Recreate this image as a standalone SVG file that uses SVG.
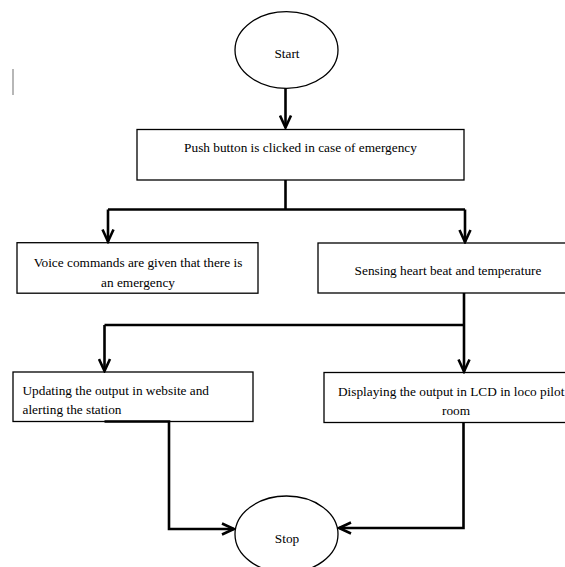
<svg xmlns="http://www.w3.org/2000/svg" width="565" height="567" viewBox="0 0 565 567">
<defs>
<style>
.box{fill:#fff;stroke:#000;stroke-width:1.3}
.term{fill:#fff;stroke:#000;stroke-width:1.3}
.t{font-family:"Liberation Serif","Times New Roman",serif;font-size:13.3px;fill:#000}
.c{text-anchor:middle}
.conn{fill:none;stroke:#000;stroke-width:2.6;stroke-linejoin:miter}
</style>
<marker id="ah" markerUnits="userSpaceOnUse" markerWidth="16" markerHeight="14" viewBox="-14 -7 16 14" refX="0" refY="0" orient="auto">
<path d="M-12,-5.5 L0,0 L-12,5.5" fill="none" stroke="#000" stroke-width="2.6" stroke-linejoin="miter"/>
</marker>
<clipPath id="clipL1"><rect x="17" y="243" width="241" height="48"/></clipPath>
<clipPath id="clipL2"><rect x="13" y="372" width="240" height="45.5"/></clipPath>
</defs>
<rect width="565" height="567" fill="#fff"/>
<line x1="13" y1="69" x2="13" y2="95" stroke="#999" stroke-width="1.4"/>

<g id="start">
<ellipse class="term" cx="286.5" cy="50" rx="51.5" ry="38.3"/>
<text class="t c" x="287" y="58">Start</text>
</g>

<g id="push">
<rect class="box" x="137" y="129.5" width="327" height="50.5"/>
<text class="t c" x="300.5" y="151.5">Push button is clicked in case of emergency</text>
</g>

<g id="voice">
<rect class="box" x="17" y="242.7" width="241" height="50.5"/>
<g clip-path="url(#clipL1)">
<text class="t c" x="138" y="267">Voice commands are given that there is</text>
<text class="t c" x="138" y="287">an emergency</text>
</g>
</g>

<g id="sensing">
<rect class="box" x="318" y="243" width="260" height="50"/>
<text class="t c" x="448" y="274.5">Sensing heart beat and temperature</text>
</g>

<g id="updating">
<rect class="box" x="13" y="372" width="240" height="49.5"/>
<g clip-path="url(#clipL2)">
<text class="t" x="22.5" y="395">Updating the output in website and</text>
<text class="t" x="22.5" y="414">alerting the station</text>
</g>
</g>

<g id="displaying">
<rect class="box" x="324" y="372.5" width="260" height="50"/>
<text class="t" x="338" y="395.5">Displaying the output in LCD in loco pilot</text>
<text class="t c" x="456" y="414.5">room</text>
</g>

<g id="stop">
<ellipse class="term" cx="286.5" cy="534.3" rx="51.5" ry="38.3"/>
<text class="t c" x="287" y="543">Stop</text>
</g>

<g id="connectors">
<path class="conn" d="M285.5,88.3 V127.5" marker-end="url(#ah)"/>
<path class="conn" d="M285.5,180 V209.5"/>
<path class="conn" d="M108,209.5 H465"/>
<path class="conn" d="M108,209.5 V241.5" marker-end="url(#ah)"/>
<path class="conn" d="M465,209.5 V242" marker-end="url(#ah)"/>
<path class="conn" d="M464,293 V325"/>
<path class="conn" d="M104.5,325 H464"/>
<path class="conn" d="M104.5,325 V371" marker-end="url(#ah)"/>
<path class="conn" d="M464,325 V371.5" marker-end="url(#ah)"/>
<path class="conn" d="M104.5,421.5 H169 V529 H234" marker-end="url(#ah)"/>
<path class="conn" d="M463.5,422.5 V528 H339" marker-end="url(#ah)"/>
</g>
</svg>
